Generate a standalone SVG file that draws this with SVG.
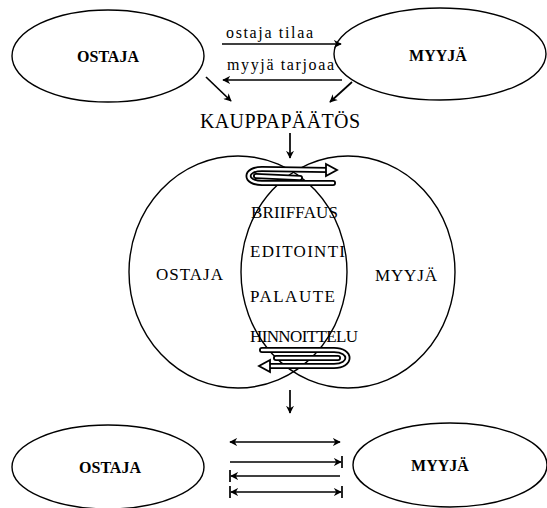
<svg xmlns="http://www.w3.org/2000/svg" width="547" height="508" viewBox="0 0 547 508">
<style>
.el{fill:none;stroke:#000;stroke-width:1.4}
.ln{fill:none;stroke:#000;stroke-width:1.7}
.bar{stroke:#000;stroke-width:1.7}
.t{font-family:"Liberation Serif",serif;fill:#000}
.b{font-weight:bold;font-size:16px}
.r{font-size:17px}
.s{font-size:16px}
.rib-o{fill:none;stroke:#000;stroke-width:6;stroke-linecap:round}
.rib-i{fill:none;stroke:#fff;stroke-width:2.4;stroke-linecap:round}
</style>
<defs>
<marker id="ah" viewBox="0 0 10 10" refX="9" refY="5" markerWidth="8" markerHeight="8" markerUnits="userSpaceOnUse" orient="auto-start-reverse">
<path d="M0,0 L10,5 L0,10 L3,5 z" fill="#000"/>
</marker>
</defs>
<rect width="547" height="508" fill="#fff"/>

<g id="ostaja-top">
<ellipse class="el" cx="108" cy="56" rx="96" ry="46"/>
<text class="t b" x="108" y="62" text-anchor="middle">OSTAJA</text>
</g>
<g id="myyja-top">
<ellipse class="el" cx="440" cy="54" rx="106" ry="46"/>
<text class="t b" x="438" y="61" text-anchor="middle">MYYJÄ</text>
</g>
<g id="kauppapaatos">
<text class="t" x="200" y="128" font-size="20" textLength="160" lengthAdjust="spacing">KAUPPAPÄÄTÖS</text>
</g>
<g id="venn">
<ellipse class="el" cx="238" cy="272" rx="109" ry="116"/>
<ellipse class="el" cx="348" cy="272" rx="107" ry="116"/>
<text class="t r" x="156" y="280" textLength="67" lengthAdjust="spacing">OSTAJA</text>
<text class="t r" x="375" y="281" textLength="62" lengthAdjust="spacing">MYYJÄ</text>
<text class="t r" x="251" y="218" textLength="87" lengthAdjust="spacing">BRIIFFAUS</text>
<text class="t r" x="250" y="257" textLength="95" lengthAdjust="spacing">EDITOINTI</text>
<text class="t r" x="250" y="302" textLength="85" lengthAdjust="spacing">PALAUTE</text>
<text class="t r" x="250" y="342" textLength="108" lengthAdjust="spacing">HINNOITTELU</text>
</g>
<g id="spiral-top">
<path class="rib-o" d="M256 176 L300 178"/>
<path class="rib-i" d="M256 176 L300 178"/>
<path class="rib-o" d="M333 183 L262 183 C244 183 244 169 262 169 L328 170"/>
<path class="rib-i" d="M333 183 L262 183 C244 183 244 169 262 169 L328 170"/>
<path d="M326 164 L337 170 L326 176 z" fill="#fff" stroke="#000" stroke-width="1.8"/>
</g>
<g id="spiral-bottom">
<path class="rib-o" d="M276 358 L338 358"/>
<path class="rib-i" d="M276 358 L338 358"/>
<path class="rib-o" d="M262 350 L334 350 C352 350 352 366 334 366 L268 366"/>
<path class="rib-i" d="M262 350 L334 350 C352 350 352 366 334 366 L268 366"/>
<path d="M270 360 L259 366 L270 372 z" fill="#fff" stroke="#000" stroke-width="1.8"/>
</g>
<g id="ostaja-bottom">
<ellipse class="el" cx="108" cy="467" rx="96" ry="42"/>
<text class="t b" x="110" y="473" text-anchor="middle">OSTAJA</text>
</g>
<g id="myyja-bottom">
<ellipse class="el" cx="450" cy="465" rx="97" ry="42"/>
<text class="t b" x="440" y="471" text-anchor="middle">MYYJÄ</text>
</g>

<g id="connectors">
<line class="ln" x1="222" y1="44" x2="341" y2="44" marker-end="url(#ah)"/>
<text class="t s" x="226" y="38" textLength="87" lengthAdjust="spacing">ostaja tilaa</text>
<line class="ln" x1="342" y1="80" x2="223" y2="80" marker-end="url(#ah)"/>
<text class="t s" x="227" y="70" textLength="107" lengthAdjust="spacing">myyjä tarjoaa</text>
<line class="ln" x1="206" y1="77" x2="231" y2="101" marker-end="url(#ah)"/>
<line class="ln" x1="352" y1="82" x2="330" y2="102" marker-end="url(#ah)"/>
<line class="ln" x1="290" y1="133" x2="290" y2="158" marker-end="url(#ah)"/>
<line class="ln" x1="290" y1="390" x2="290" y2="413" marker-end="url(#ah)"/>
<line class="ln" x1="230" y1="442" x2="340" y2="442" marker-start="url(#ah)" marker-end="url(#ah)"/>
<line class="ln" x1="230" y1="462" x2="341" y2="462" marker-end="url(#ah)"/>
<line class="bar" x1="342" y1="456" x2="342" y2="468"/>
<line class="ln" x1="340" y1="476" x2="231" y2="476" marker-end="url(#ah)"/>
<line class="bar" x1="230" y1="470" x2="230" y2="482"/>
<line class="ln" x1="231" y1="492" x2="341" y2="492" marker-start="url(#ah)" marker-end="url(#ah)"/>
<line class="bar" x1="230" y1="486" x2="230" y2="498"/>
<line class="bar" x1="342" y1="486" x2="342" y2="498"/>
</g>
</svg>
